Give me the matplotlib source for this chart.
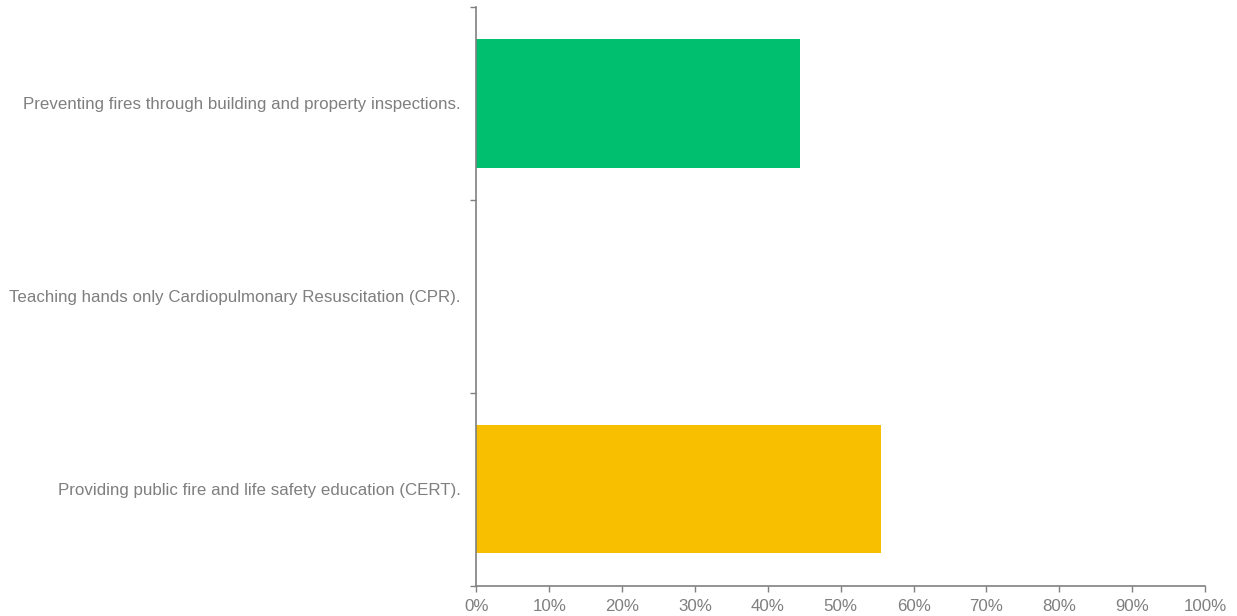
import numpy as np
import matplotlib.pyplot as plt
from matplotlib.ticker import FixedLocator, PercentFormatter

plt.rcParams['font.family'] = ['Liberation Sans', 'DejaVu Sans']

categories = [
    "Preventing fires through building and property inspections.",
    "Teaching hands only Cardiopulmonary Resuscitation (CPR).",
    "Providing public fire and life safety education (CERT).",
]
shares = [44.44, 0.0, 55.56]
colors = ["#00c06f", "#6fa8dc", "#f8be00"]

fig = plt.figure(figsize=(12.37, 6.16), dpi=100)
ax = fig.add_axes([0.3852, 0.0495, 0.5889, 0.9391])

ypos = np.arange(len(categories)) + 0.5
ax.barh(ypos, shares, height=0.665, color=colors)

ax.set_xlim(0, 100)
ax.set_ylim(len(categories), 0)
ax.set_xticks(np.arange(0, 101, 10))
ax.xaxis.set_major_formatter(PercentFormatter(decimals=0))
ax.set_yticks(ypos)
ax.set_yticklabels(categories)
ax.yaxis.set_minor_locator(FixedLocator(np.arange(len(categories) + 1)))

grey = "#808080"
for side in ["top", "right"]:
    ax.spines[side].set_visible(False)
for side in ["left", "bottom"]:
    ax.spines[side].set_color(grey)
    ax.spines[side].set_linewidth(1.2)

ax.tick_params(axis="y", which="major", length=0, pad=11.5, labelsize=12.2, labelcolor="#7f7f7f")
ax.tick_params(axis="y", which="minor", length=4, color=grey, width=1)
ax.tick_params(axis="x", length=4, color=grey, width=1, pad=6, labelsize=12.2, labelcolor="#7f7f7f")

fig.savefig("out.png", dpi=100)
